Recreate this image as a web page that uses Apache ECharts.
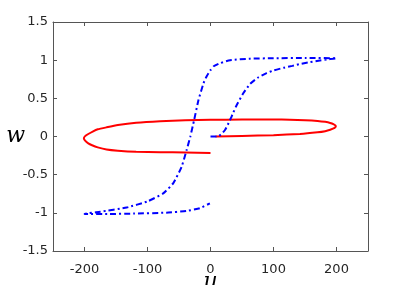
<!DOCTYPE html>
<html>
<head>
<meta charset="UTF-8">
<script src="https://cdn.jsdelivr.net/npm/echarts@6/dist/echarts.min.js"></script>
<style>
  html, body { margin: 0; padding: 0; background: #fff; }
  #main { width: 407px; height: 285px; }
</style>
</head>
<body>
<div id="main"></div>
<script>
// tick values
var xTicks = [-200, -100, 0, 100, 200];
var yTicks = [-1.5, -1, -0.5, 0, 0.5, 1, 1.5];

// red curve (u, w)
var redU = [0, -40, -80, -118, -147, -165, -179, -188, -194, -199, -201, -199, -194, -187, -179, -165, -147, -118, -80, -40, 0, 50, 100, 126, 150, 170, 182, 190, 195, 199, 197, 190, 182, 170, 142, 100, 50, 8];
var redW = [-0.215, -0.21, -0.205, -0.2, -0.186, -0.17, -0.142, -0.115, -0.09, -0.055, -0.024, 0.005, 0.033, 0.065, 0.094, 0.12, 0.15, 0.18, 0.2, 0.212, 0.218, 0.222, 0.222, 0.22, 0.214, 0.204, 0.192, 0.178, 0.162, 0.137, 0.112, 0.088, 0.07, 0.055, 0.033, 0.018, 0.008, 0.0];

// blue dash-dot loop (u, w)
var blueU = [0, 12, 23, 31, 36, 41.5, 52, 63, 75, 89, 100, 116, 130, 142, 155, 169, 185, 200,
             200, 150, 100, 63, 31, 15, 5, 0,
             -6, -11, -19, -26, -32, -38, -46, -59, -75, -100, -133, -175, -200,
             -200, -160, -122, -70, -38, -17, -1];
var blueW = [0, 0, 0.085, 0.216, 0.31, 0.41, 0.566, 0.69, 0.77, 0.83, 0.865, 0.9, 0.925, 0.95, 0.97, 0.99, 1.01, 1.025,
             1.03, 1.03, 1.025, 1.02, 1.0, 0.96, 0.92, 0.87,
             0.79, 0.7, 0.48, 0.216, 0.0, -0.18, -0.4, -0.61, -0.745, -0.85, -0.93, -0.985, -1.015,
             -1.02, -1.015, -1.01, -0.998, -0.975, -0.94, -0.875];

function pairs(xs, ys) {
  var out = [];
  for (var i = 0; i < xs.length; i++) out.push([xs[i], ys[i]]);
  return out;
}

var axisColor = '#555';
var labelColor = '#262626';

var chart = echarts.init(document.getElementById('main'));
chart.setOption({
  animation: false,
  grid: { left: 53, right: 39, top: 22, bottom: 34, containLabel: false, outerBoundsMode: 'none' },
  xAxis: [{
    type: 'value', min: -250, max: 250,
    axisLine: { show: true, onZero: false, lineStyle: { color: axisColor, width: 1 } },
    axisTick: { show: true, inside: true, length: 4, lineStyle: { color: axisColor }, customValues: xTicks },
    splitLine: { show: false },
    axisLabel: {
      color: labelColor, fontSize: 13, fontFamily: 'DejaVu Sans', margin: 12,
      customValues: xTicks
    },
    name: 'u', nameLocation: 'middle', nameGap: 20, nameMoveOverlap: false,
    nameTextStyle: { fontFamily: 'DejaVu Serif', fontStyle: 'italic', fontSize: 22, color: '#000' }
  }, {
    type: 'value', min: -250, max: 250, position: 'top',
    axisLine: { show: true, onZero: false, lineStyle: { color: axisColor, width: 1 } },
    axisTick: { show: true, inside: true, length: 4, lineStyle: { color: axisColor }, customValues: xTicks },
    axisLabel: { show: false },
    splitLine: { show: false }
  }],
  yAxis: [{
    type: 'value', min: -1.5, max: 1.5,
    axisLine: { show: true, onZero: false, lineStyle: { color: axisColor, width: 1 } },
    axisTick: { show: true, inside: true, length: 4, lineStyle: { color: axisColor }, customValues: yTicks },
    splitLine: { show: false },
    axisLabel: {
      color: labelColor, fontSize: 13, fontFamily: 'DejaVu Sans', margin: 5,
      customValues: yTicks,
      formatter: function (v) { return String(v); }
    },
    name: 'w', nameLocation: 'middle', nameGap: 28, nameRotate: 0, nameMoveOverlap: false,
    nameTextStyle: { fontFamily: 'DejaVu Serif', fontStyle: 'italic', fontSize: 22, color: '#000' }
  }, {
    type: 'value', min: -1.5, max: 1.5, position: 'right',
    axisLine: { show: true, onZero: false, lineStyle: { color: axisColor, width: 1 } },
    axisTick: { show: true, inside: true, length: 4, lineStyle: { color: axisColor }, customValues: yTicks },
    axisLabel: { show: false },
    splitLine: { show: false }
  }],
  series: [{
    type: 'line', data: pairs(redU, redW), smooth: 0.15, showSymbol: false,
    lineStyle: { color: '#ff0000', width: 2 }
  }, {
    type: 'line', data: pairs(blueU, blueW), smooth: 0.15, showSymbol: false,
    lineStyle: { color: '#0000ff', width: 2, type: [6, 3, 2, 3] }
  }]
});
</script>
</body>
</html>
